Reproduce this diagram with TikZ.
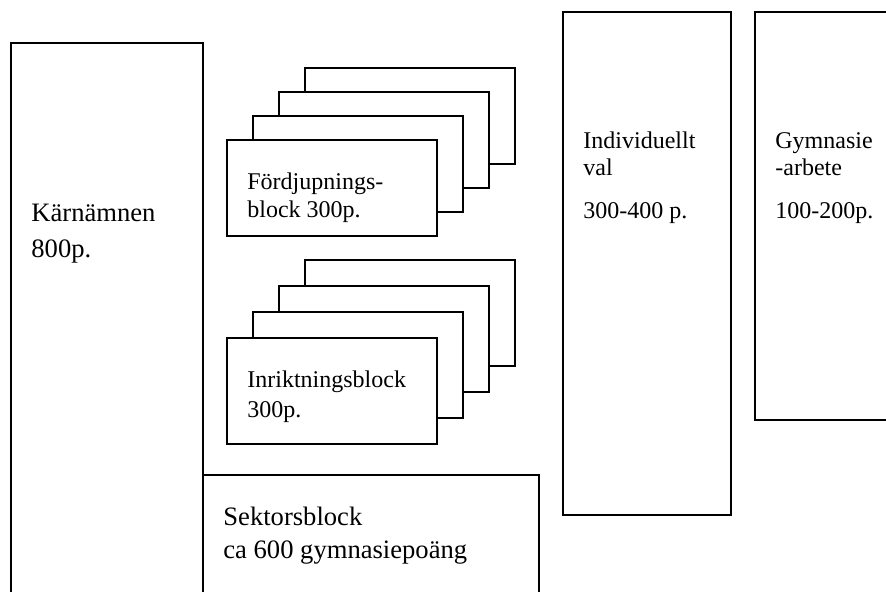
\documentclass[tikz,border=0pt]{standalone}
\usepackage{fontspec}
\setmainfont{Liberation Serif}

\begin{document}
\begin{tikzpicture}[
    x = 0.5pt, y = -0.5pt,
    blockbox/.style = {draw, line width=1pt, fill=white},
    bigtext/.style = {anchor=base west, inner sep=0pt, font=\fontsize{13.3}{16}\selectfont},
    smalltext/.style = {anchor=base west, inner sep=0pt, font=\fontsize{12}{14}\selectfont}]

\useasboundingbox (0,0) rectangle (886,591);
\clip (0,0) rectangle (886,591);

% columns
\draw[blockbox] (11,43) rectangle (203,620);
\draw[blockbox] (203,475) rectangle (539,620);
\draw[blockbox] (563,12) rectangle (731,515);
\draw[blockbox] (755,12) rectangle (920,420);

% stacked blocks, back to front
\foreach \i in {3,2,1,0}
  \draw[blockbox] (227+26*\i,140-24*\i) rectangle (437+26*\i,236-24*\i);
\foreach \i in {3,2,1,0}
  \draw[blockbox] (227+26*\i,338-26*\i) rectangle (437+26*\i,444-26*\i);

\path (31,221) node[bigtext](karn) {Kärnämnen}
      (31,257) node[bigtext](karnp) {800p.}
      (247,189) node[smalltext](ford) {Fördjupnings-}
      (247,217) node[smalltext](fordp) {block 300p.}
      (247,387) node[smalltext](inri) {Inriktningsblock}
      (247,417) node[smalltext](inrip) {300p.}
      (223,525) node[bigtext](sekt) {Sektorsblock}
      (223,558) node[bigtext](sektp) {ca 600 gymnasiepoäng}
      (583,148) node[smalltext](indi) {Individuellt}
      (583,175) node[smalltext](indival) {val}
      (583,218) node[smalltext](indip) {300-400 p.}
      (775,148) node[smalltext](gymn) {Gymnasie}
      (775,175) node[smalltext](gymnarb) {-arbete}
      (775,218) node[smalltext](gymnp) {100-200p.};
\end{tikzpicture}
\end{document}
